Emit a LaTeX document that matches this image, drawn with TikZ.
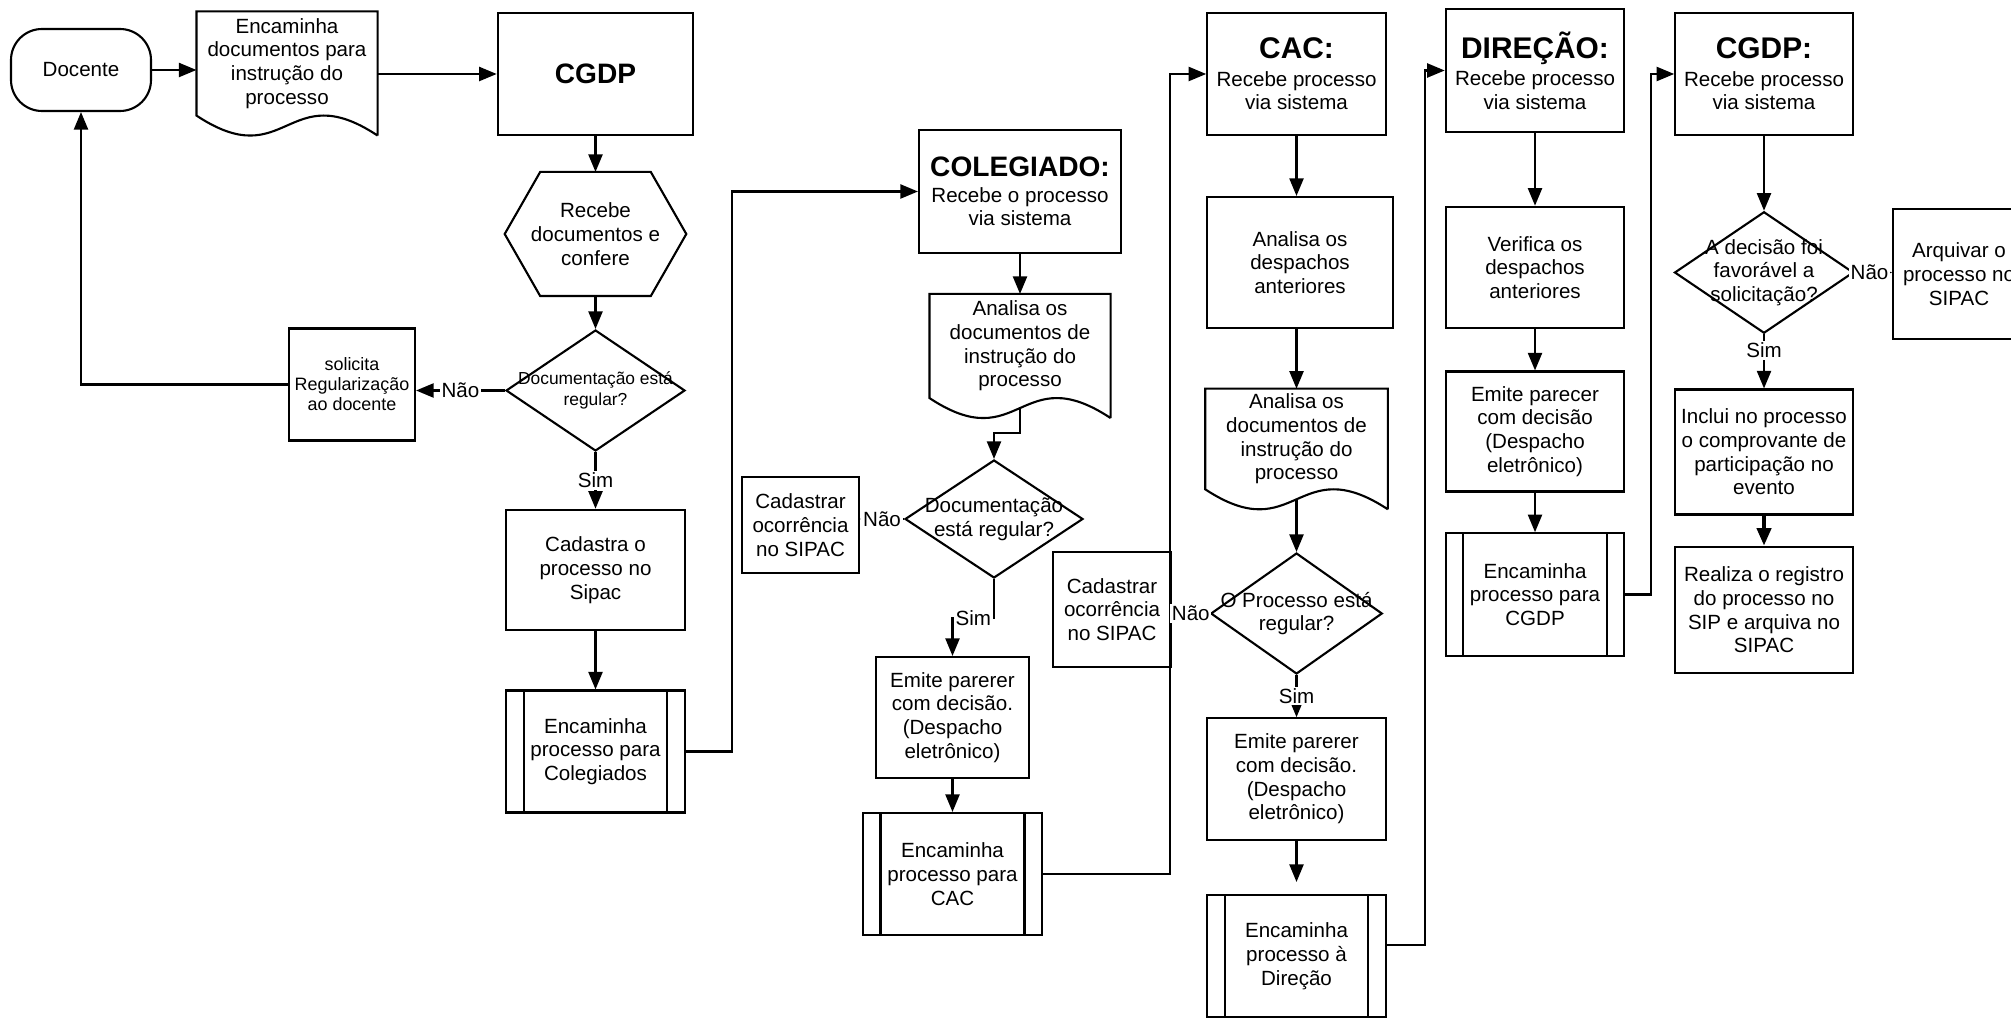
\documentclass[tikz,border=0pt]{standalone}
\usepackage{fontspec}
\setmainfont{Liberation Sans}
\usetikzlibrary{positioning, arrows.meta, shapes.geometric}

\newcommand{\bodyfont}{\fontsize{11.7}{13.5}\selectfont}
\newcommand{\headfont}{\fontsize{17}{19}\selectfont\bfseries}
\newcommand{\smallfont}{\fontsize{9.9}{11.6}\selectfont}

\tikzset{
  base/.style={align=center, font=\bodyfont, inner sep=2pt},
  box/.style={base, draw, rectangle, minimum width=3.57cm, minimum height=2.44cm},
  subproc/.style={box, path picture={
      \draw[line width=1.2pt] ([xshift=0.35cm]path picture bounding box.north west) -- ([xshift=0.35cm]path picture bounding box.south west)
        ([xshift=-0.35cm]path picture bounding box.north east) -- ([xshift=-0.35cm]path picture bounding box.south east);}},
  doc/.style={base, minimum width=3.58cm, minimum height=2.04cm},
  decision/.style={base, draw, diamond, inner sep=0pt, minimum width=3.58cm, minimum height=2.42cm},
  dtext/.style={align=center, font=\bodyfont},
  terminal/.style={box, rounded corners=0.62cm, minimum width=2.8cm, minimum height=1.64cm},
  lbl/.style={fill=white, inner sep=1pt, font=\bodyfont}
}

\begin{document}
\begin{tikzpicture}[line width=1.2pt, >={Triangle[length=10pt,width=8pt]}, node distance=3cm, on grid]
  \useasboundingbox (0,0) rectangle (40.22,-20.36);

  % CGDP / docente
  \node[terminal] (docente) at (1.62,-1.40) {Docente};
  \node[doc] (docs) at (5.74,-1.27) {Encaminha\\documentos para\\instrução do\\processo};
  \node[box, minimum width=3.91cm, font=\fontsize{16}{19}\selectfont\bfseries] (cgdp) at (11.91,-1.48) {CGDP};
  \node[base, minimum width=3.59cm, minimum height=2.44cm] (confere) [below=3.2cm of cgdp] {Recebe\\documentos e\\confere};
  \node[decision, label={[dtext, font=\smallfont]center:Documentação está\\regular?}] (regular) [below=3.13cm of confere] {};
  \node[box, minimum width=2.52cm, minimum height=2.24cm, font=\fontsize{10.2}{11.4}\selectfont] (solicita) at (7.04,-7.69) {solicita\\Regularização\\ao docente};
  \node[box, minimum height=2.41cm] (cadastra) [below=3.59cm of regular] {Cadastra o\\processo no\\Sipac};
  \node[subproc] (paraColeg) [below=3.63cm of cadastra] {Encaminha\\processo para\\Colegiados};

  % colegiado
  \node[box, minimum width=4.04cm, minimum height=2.46cm] (colegiado) at (20.40,-3.83) {{\fontsize{16}{19}\selectfont\bfseries COLEGIADO:}\\[1pt]Recebe o processo\\via sistema};
  \node[doc] (analisaColeg) [below=3.09cm of colegiado] {Analisa os\\documentos de\\instrução do\\processo};
  \node[decision, minimum width=3.56cm, minimum height=2.36cm, label={[dtext]center:Documentação\\está regular?}] (regularColeg) at (19.88,-10.38) {};
  \node[box, minimum width=2.34cm, minimum height=1.92cm] (ocorrColeg) at (16.01,-10.50) {Cadastrar\\ocorrência\\no SIPAC};
  \node[box, minimum width=3.06cm, minimum height=2.42cm] (emiteColeg) at (19.05,-14.35) {Emite parerer\\com decisão.\\(Despacho\\eletrônico)};
  \node[subproc, minimum width=3.58cm] (paraCAC) [below=3.13cm of emiteColeg] {Encaminha\\processo para\\CAC};

  % CAC
  \node[box, minimum height=2.43cm] (cac) at (25.93,-1.48) {{\headfont CAC:}\\[2pt]Recebe processo\\via sistema};
  \node[box, minimum width=3.72cm, minimum height=2.62cm] (despCAC) at (26.00,-5.25) {Analisa os\\despachos\\anteriores};
  \node[doc, minimum width=3.61cm, minimum height=1.97cm] (analisaCAC) at (25.93,-8.78) {Analisa os\\documentos de\\instrução do\\processo};
  \node[decision, minimum width=3.43cm, label={[dtext]center:O Processo está\\regular?}] (regularCAC) [below=3.49cm of analisaCAC] {};
  \node[box, minimum width=2.35cm, minimum height=2.30cm] (ocorrCAC) at (22.24,-12.19) {Cadastrar\\ocorrência\\no SIPAC};
  \node[box, minimum height=2.43cm] (emiteCAC) [below=3.31cm of regularCAC] {Emite parerer\\com decisão.\\(Despacho\\eletrônico)};
  \node[subproc] (paraDirecao) [below=3.54cm of emiteCAC] {Encaminha\\processo à\\Direção};

  % direcao
  \node[box, minimum height=2.45cm] (direcao) at (30.70,-1.41) {{\headfont DIREÇÃO:}\\[2pt]Recebe processo\\via sistema};
  \node[box, minimum height=2.43cm] (verifica) [below=3.94cm of direcao] {Verifica os\\despachos\\anteriores};
  \node[box, minimum height=2.40cm] (emiteDir) [below=3.28cm of verifica] {Emite parecer\\com decisão\\(Despacho\\eletrônico)};
  \node[subproc, minimum height=2.45cm] (paraCGDP) [below=3.26cm of emiteDir] {Encaminha\\processo para\\CGDP};

  % CGDP final
  \node[box, minimum width=3.55cm, minimum height=2.43cm] (cgdpFinal) at (35.28,-1.48) {{\headfont CGDP:}\\[2pt]Recebe processo\\via sistema};
  \node[decision, minimum height=2.43cm, label={[dtext]center:A decisão foi\\favorável a\\solicitação?}] (favoravel) [below=3.97cm of cgdpFinal] {};
  \node[box, minimum width=2.64cm, minimum height=2.60cm] (arquivar) at (39.18,-5.48) {Arquivar o\\processo no\\SIPAC};
  \node[box, minimum height=2.50cm] (inclui) [below=3.59cm of favoravel] {Inclui no processo\\o comprovante de\\participação no\\evento};
  \node[box, minimum height=2.53cm] (realiza) [below=3.16cm of inclui] {Realiza o registro\\do processo no\\SIP e arquiva no\\SIPAC};

  % outlines of document shapes and hexagon
  \foreach \d in {docs, analisaColeg, analisaCAC}
    \draw ([yshift=-0.4cm]\d.south east) -- (\d.north east) -- (\d.north west) -- (\d.south west)
      .. controls ([yshift=-1.2cm]\d.south) and ([yshift=0.8cm]\d.south) .. ([yshift=-0.4cm]\d.south east);
  \draw (confere.west) -- ([xshift=0.71cm]confere.north west) -- ([xshift=-0.71cm]confere.north east)
    -- (confere.east) -- ([xshift=-0.71cm]confere.south east) -- ([xshift=0.71cm]confere.south west) -- cycle;

  % connectors
  \draw[->] (docente.east) -- (docente.east -| docs.west);
  \draw[->] (cgdp.west -| docs.east) -- (cgdp.west);
  \draw[->] (cgdp) -- (confere);
  \draw[->] (confere) -- (regular);
  \draw[->] (regular.west) -- node[lbl]{Não} (regular.west -| solicita.east);
  \draw[->] (solicita.west) -| (docente.south);
  \draw[->] (regular) -- node[lbl]{Sim} (cadastra);
  \draw[->] (cadastra) -- (paraColeg);
  \draw[->] (paraColeg.east) -- ++(0.93cm,0) |- (colegiado.west);

  \draw[->] (colegiado) -- (analisaColeg);
  \draw[->] ([yshift=-0.2cm]analisaColeg.south) -- ++(0,-0.5cm) -| (regularColeg.north);
  \draw[->] (regularColeg.west) -- node[lbl]{Não} (regularColeg.west -| ocorrColeg.east);
  \draw[->] (regularColeg.south) -- ++(0,-0.78cm) -| node[lbl, pos=0.25]{Sim} (emiteColeg.north);
  \draw[->] (emiteColeg) -- (paraCAC);
  \draw[->] (paraCAC.east) -- ++(2.54cm,0) |- (cac.west);

  \draw[->] (cac.south) -- (cac.south |- despCAC.north);
  \draw[->] (analisaCAC.north |- despCAC.south) -- (analisaCAC.north);
  \draw[->] ([yshift=-0.2cm]analisaCAC.south) -- (regularCAC.north);
  \draw[->] (regularCAC.west) -- node[lbl]{Não} (regularCAC.west -| ocorrCAC.east);
  \draw[->] (regularCAC) -- node[lbl]{Sim} (emiteCAC);
  \draw[->, shorten >=0.24cm] (emiteCAC) -- (paraDirecao);
  \draw[->] ([yshift=0.22cm]paraDirecao.east) -- ++(0.76cm,0) |- (direcao.west);

  \draw[->] (direcao) -- (verifica);
  \draw[->] (verifica) -- (emiteDir);
  \draw[->] (emiteDir) -- (paraCGDP);
  \draw[->] (paraCGDP.east) -- ++(0.51cm,0) |- (cgdpFinal.west);

  \draw[->] (cgdpFinal) -- (favoravel);
  \draw[->] (favoravel.east) -- node[lbl, pos=0.4]{Não} (favoravel.east -| arquivar.west);
  \draw[->] (favoravel) -- node[lbl, pos=0.3]{Sim} (inclui);
  \draw[->, line width=2.2pt] (inclui) -- (realiza);
\end{tikzpicture}
\end{document}
